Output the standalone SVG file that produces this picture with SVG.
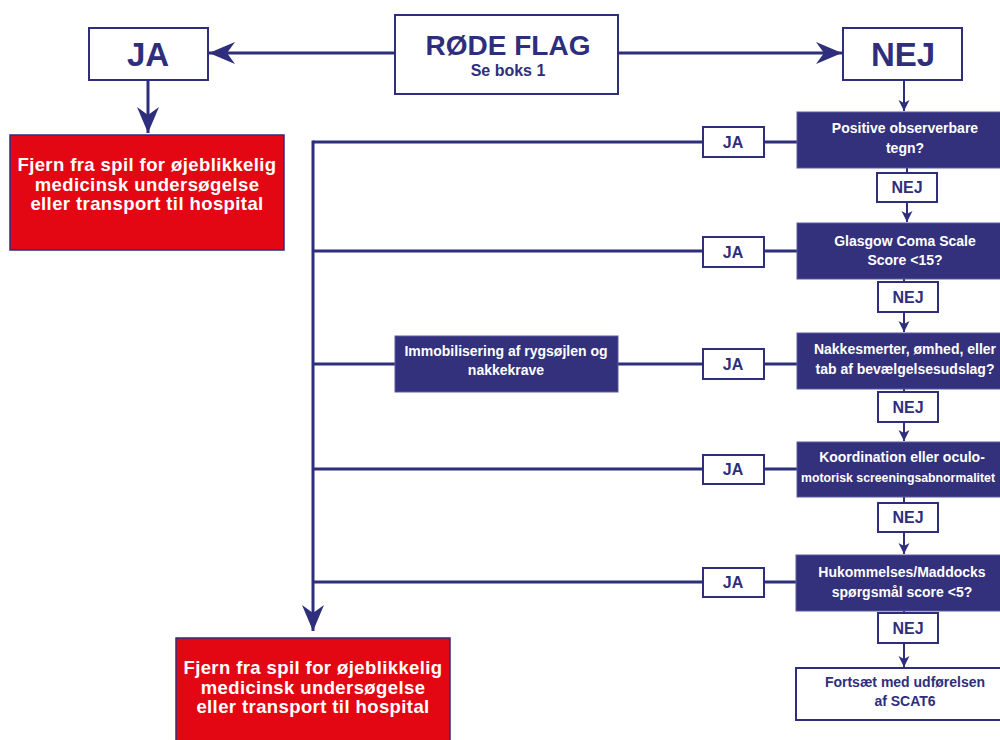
<svg xmlns="http://www.w3.org/2000/svg" width="1000" height="740" viewBox="0 0 1000 740">
<style>
text{font-family:"Liberation Sans",Arial,sans-serif;font-weight:bold;text-anchor:middle}
.wb{fill:#fff;stroke:#2e2e7c;stroke-width:2}
.db{fill:#33317b;stroke:#5a5aa0;stroke-width:1}
.rb{fill:#e30613;stroke:#2e2e7c;stroke-width:1.5}
.ln{fill:none;stroke:#2e2e7c;stroke-width:3}
.tn{fill:none;stroke:#2e2e7c;stroke-width:2}
.big{font-size:33px;fill:#2e2e7c}
.sj{font-size:16px;fill:#2e2e7c}
.dt{font-size:14px;fill:#fff}
.rt{font-size:18.5px;fill:#fff;letter-spacing:0.4px}
.nt{font-size:14px;fill:#2e2e7c}
</style>
<defs>
<marker id="bigA" markerWidth="28" markerHeight="24" refX="26" refY="11" orient="auto" markerUnits="userSpaceOnUse">
<path d="M0,0 L26,11 L0,22 L8,11 Z" fill="#2e2e7c"/>
</marker>
<marker id="smA" markerWidth="12" markerHeight="12" refX="11" refY="5.5" orient="auto" markerUnits="userSpaceOnUse">
<path d="M0,0 L11,5.5 L0,11 L3,5.5 Z" fill="#2e2e7c"/>
</marker>
</defs>
<rect width="1000" height="740" fill="#fff"/>
<g id="connectors">
<line class="ln" x1="395" y1="53" x2="209" y2="53" marker-end="url(#bigA)"/>
<line class="ln" x1="618" y1="53" x2="842" y2="53" marker-end="url(#bigA)"/>
<line class="ln" x1="148" y1="80" x2="148" y2="133" marker-end="url(#bigA)"/>
<line class="ln" x1="313" y1="140.5" x2="313" y2="631" marker-end="url(#bigA)"/>
<line class="ln" x1="313" y1="142" x2="797" y2="142"/>
<line class="ln" x1="313" y1="251" x2="797" y2="251"/>
<line class="ln" x1="313" y1="364" x2="797" y2="364"/>
<line class="ln" x1="313" y1="469" x2="797" y2="469"/>
<line class="ln" x1="313" y1="582" x2="797" y2="582"/>
<line class="tn" x1="904" y1="80" x2="904" y2="111" marker-end="url(#smA)"/>
<line class="tn" x1="907" y1="168" x2="907" y2="222" marker-end="url(#smA)"/>
<line class="tn" x1="904" y1="279" x2="904" y2="332" marker-end="url(#smA)"/>
<line class="tn" x1="904" y1="389" x2="904" y2="441" marker-end="url(#smA)"/>
<line class="tn" x1="904" y1="497" x2="904" y2="554" marker-end="url(#smA)"/>
<line class="tn" x1="904" y1="611" x2="904" y2="667" marker-end="url(#smA)"/>
</g>
<g id="rode-flag"><rect class="wb" x="395" y="15" width="223" height="79"/>
<text x="508" y="55" style="font-size:28px;fill:#2e2e7c">RØDE FLAG</text>
<text x="508" y="76" style="font-size:16px;fill:#2e2e7c">Se boks 1</text></g>
<g id="ja-top"><rect class="wb" x="89" y="28" width="119" height="52"/><text class="big" x="148" y="66">JA</text></g>
<g id="nej-top"><rect class="wb" x="843" y="28" width="119" height="52"/><text class="big" x="903" y="66">NEJ</text></g>
<g id="red1"><rect class="rb" x="10" y="135" width="274" height="115"/>
<text class="rt" x="147" y="171">Fjern fra spil for øjeblikkelig</text>
<text class="rt" x="147" y="190.5">medicinsk undersøgelse</text>
<text class="rt" x="147" y="210">eller transport til hospital</text></g>
<g id="red2"><rect class="rb" x="176" y="638" width="274" height="115"/>
<text class="rt" x="313" y="674">Fjern fra spil for øjeblikkelig</text>
<text class="rt" x="313" y="693.5">medicinsk undersøgelse</text>
<text class="rt" x="313" y="713">eller transport til hospital</text></g>
<g id="q1"><rect class="db" x="797" y="112" width="216" height="56"/>
<text class="dt" x="905" y="133">Positive observerbare</text><text class="dt" x="905" y="153">tegn?</text></g>
<g id="q2"><rect class="db" x="797" y="223" width="216" height="56"/>
<text class="dt" x="905" y="246">Glasgow Coma Scale</text><text class="dt" x="905" y="265">Score &lt;15?</text></g>
<g id="q3"><rect class="db" x="797" y="333" width="216" height="56"/>
<text class="dt" x="905" y="354">Nakkesmerter, ømhed, eller</text><text class="dt" x="905" y="374">tab af bevælgelsesudslag?</text></g>
<g id="q4"><rect class="db" x="797" y="442" width="216" height="55"/>
<text class="dt" x="902" y="462">Koordination eller oculo-</text><text class="dt" x="898" y="482" style="font-size:12.3px">motorisk screeningsabnormalitet</text></g>
<g id="q5"><rect class="db" x="796" y="555" width="217" height="56"/>
<text class="dt" x="902" y="577">Hukommelses/Maddocks</text><text class="dt" x="902" y="597">spørgsmål score &lt;5?</text></g>
<g id="end"><rect class="wb" x="796" y="668" width="217" height="52"/>
<text class="nt" x="905" y="687">Fortsæt med udførelsen</text><text class="nt" x="905" y="706">af SCAT6</text></g>
<g id="immob"><rect class="db" x="395" y="336" width="223" height="56"/>
<text class="dt" x="506" y="356">Immobilisering af rygsøjlen og</text><text class="dt" x="506" y="375">nakkekrave</text></g>
<g id="ja1"><rect class="wb" x="703" y="127" width="61" height="30"/><text class="sj" x="733" y="148">JA</text></g>
<g id="ja2"><rect class="wb" x="703" y="237" width="61" height="30"/><text class="sj" x="733" y="258">JA</text></g>
<g id="ja3"><rect class="wb" x="703" y="349" width="61" height="30"/><text class="sj" x="733" y="370">JA</text></g>
<g id="ja4"><rect class="wb" x="703" y="455" width="61" height="29"/><text class="sj" x="733" y="475">JA</text></g>
<g id="ja5"><rect class="wb" x="703" y="568" width="61" height="29"/><text class="sj" x="733" y="588">JA</text></g>
<g id="nej1"><rect class="wb" x="877" y="173" width="60" height="29"/><text class="sj" x="907" y="193">NEJ</text></g>
<g id="nej2"><rect class="wb" x="878" y="282" width="60" height="30"/><text class="sj" x="908" y="303">NEJ</text></g>
<g id="nej3"><rect class="wb" x="878" y="392" width="60" height="30"/><text class="sj" x="908" y="413">NEJ</text></g>
<g id="nej4"><rect class="wb" x="878" y="503" width="60" height="29"/><text class="sj" x="908" y="523">NEJ</text></g>
<g id="nej5"><rect class="wb" x="878" y="613" width="60" height="30"/><text class="sj" x="908" y="634">NEJ</text></g>
</svg>
